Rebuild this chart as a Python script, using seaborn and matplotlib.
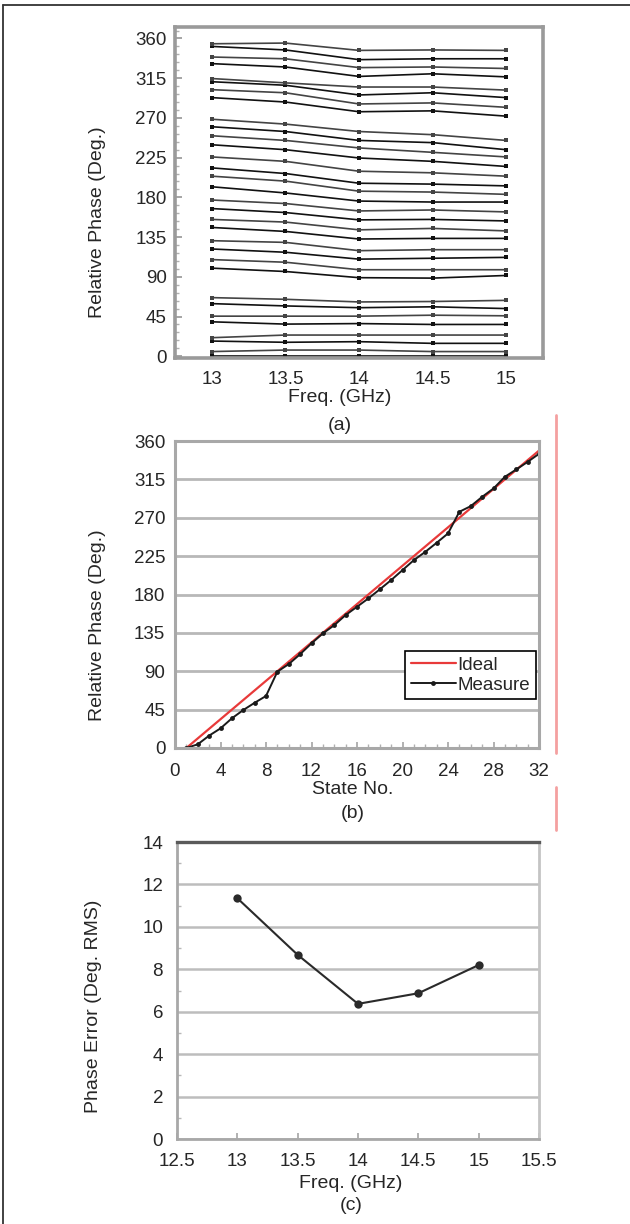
import numpy as np
import pandas as pd
import matplotlib
matplotlib.use("Agg")
import matplotlib.pyplot as plt
from matplotlib.lines import Line2D
from matplotlib.ticker import MultipleLocator
import seaborn as sns

# ---------------- data ----------------
# (a) relative phase of 32 states vs frequency
freqs_a = [13.0, 13.5, 14.0, 14.5, 15.0]
phase_13 = [0, 5.3, 17.2, 21, 39, 45.4, 59.6, 66.4,
            99.8, 109.5, 121.5, 130.9, 145.9, 155, 167.3, 177,
            192, 204, 213.4, 225.8, 239.6, 249.8, 260, 268.5,
            293, 302, 311, 314.6, 331.5, 339, 351, 354]
phase_13p5 = [0, 7, 15.8, 24, 36.4, 45.4, 57, 64.5,
              96, 106.5, 117.8, 129, 141.4, 152, 162.8, 173,
              185, 198.4, 207, 220.8, 234, 244.5, 254.6, 263,
              288, 298.5, 307, 309.7, 327.7, 337, 347, 354.8]
phase_14 = [0, 7, 16.5, 24, 37, 45.4, 55, 61.5,
            89, 98, 110, 119.6, 132.8, 143.2, 154.5, 164.6,
            175.8, 187, 196, 209.6, 224.6, 236, 244.5, 254.6,
            277, 285.8, 296, 305, 317, 327, 336, 346.5]
phase_14p5 = [0, 5.3, 14.6, 24, 36, 46.5, 56, 62,
              88.5, 98, 111, 120.7, 133.5, 144.8, 155, 165.7,
              174.7, 186, 195, 207.8, 220.8, 231, 242, 251,
              278, 287, 298.5, 305, 320, 327.7, 337, 347]
phase_15 = [0, 5.3, 14.6, 24, 36, 45.8, 54, 63.3,
            91.5, 98, 112, 120.7, 133.5, 142, 153.3, 163.5,
            174.7, 183.4, 193, 204, 215, 225.8, 234, 244.5,
            272, 282, 293, 301.5, 316.5, 326, 337, 346.5]

# (b) relative phase vs state number
states_b = list(range(1, 33))
ideal_b = [11.25 * (s - 1) for s in states_b]
measure_b = [0, 4.3, 14.5, 23, 34.8, 44.5, 53, 61,
             89.5, 98.4, 110, 122.7, 134.4, 144, 155.9, 165.6,
             175.4, 186, 196.9, 208.6, 220.3, 230, 240.6, 251.6,
             277, 283.6, 294.5, 304.3, 318, 326.6, 335.5, 345]

# (c) rms phase error vs frequency
freqs_c = [13.0, 13.5, 14.0, 14.5, 15.0]
rms_err_c = [11.35, 8.68, 6.37, 6.87, 8.2]

ticks_a_y = [0, 45, 90, 135, 180, 225, 270, 315, 360]
ticks_a_x = [13, 13.5, 14, 14.5, 15]
ticks_b_x = [0, 4, 8, 12, 16, 20, 24, 28, 32]
ticks_c_x = [12.5, 13, 13.5, 14, 14.5, 15, 15.5]
ticks_c_y = [0, 2, 4, 6, 8, 10, 12, 14]

# ---------------- style ----------------
sns.set_theme(style="white")
plt.rcParams['font.family'] = ['Liberation Sans', 'DejaVu Sans']

W, H = 630, 1224
fig = plt.figure(figsize=(W / 100, H / 100), dpi=100)


def rect(l, t, r, b):
    return [l / W, 1 - b / H, (r - l) / W, (b - t) / H]


FS = 13.5

# ---------------- (a) ----------------
ax_a = fig.add_axes(rect(175, 27, 543, 358))
cols = [phase_13, phase_13p5, phase_14, phase_14p5, phase_15]
rows = []
for s in range(32):
    for f, col in zip(freqs_a, cols):
        rows.append({"state": s + 1, "freq": f, "phase": col[s]})
df_a = pd.DataFrame(rows)
for s in range(1, 33):
    sub = df_a[df_a.state == s]
    sns.lineplot(data=sub, x="freq", y="phase", ax=ax_a,
                 color="#111111" if s % 2 else "#444444",
                 lw=1.2, marker="s", markersize=3.2, markeredgewidth=0,
                 legend=False)
ax_a.set_xlim(12.75, 15.25)
ax_a.set_ylim(-2, 373)
ax_a.set_xticks(ticks_a_x)
ax_a.set_xticklabels(["13", "13.5", "14", "14.5", "15"])
ax_a.set_yticks(ticks_a_y)
ax_a.yaxis.set_minor_locator(MultipleLocator(9))
ax_a.set_xlabel("")
ax_a.set_ylabel("")
for sp in ax_a.spines.values():
    sp.set_color("#9a9a9a")
    sp.set_linewidth(2.6)
ax_a.tick_params(axis="y", which="major", direction="in", length=5,
                 color="#9a9a9a", labelsize=FS, pad=6, left=True)
ax_a.tick_params(axis="y", which="minor", direction="in", length=3,
                 color="#b0b0b0", left=True)
ax_a.tick_params(axis="x", length=0, labelsize=FS, pad=9)

# ---------------- (b) ----------------
ax_b = fig.add_axes(rect(175, 441, 539, 748))
ax_b.yaxis.grid(True, color="#b8b8b8", lw=2)
ax_b.set_axisbelow(True)
sns.lineplot(x=states_b, y=ideal_b, ax=ax_b, color="#e83a3a", lw=1.6,
             label="Ideal")
sns.lineplot(x=states_b, y=measure_b, ax=ax_b, color="#1a1a1a", lw=1.4,
             marker="o", markersize=3.5, markeredgewidth=0, label="Measure")
ax_b.set_xlim(0, 32)
ax_b.set_ylim(0, 360)
ax_b.set_xticks(ticks_b_x)
ax_b.set_yticks(ticks_a_y)
ax_b.xaxis.set_minor_locator(MultipleLocator(1))
for sp in ax_b.spines.values():
    sp.set_color("#a8a8a8")
    sp.set_linewidth(2.2)
ax_b.tick_params(axis="both", which="major", labelsize=FS)
ax_b.tick_params(axis="x", which="major", direction="in", length=4,
                 color="#a8a8a8", pad=11, bottom=True)
ax_b.tick_params(axis="x", which="minor", direction="in", length=3,
                 color="#b0b0b0", bottom=True)
ax_b.tick_params(axis="y", length=0, pad=7)
leg = ax_b.legend(loc="upper left", bbox_to_anchor=(0.632, 0.316),
                  frameon=True, fancybox=False, edgecolor="black",
                  framealpha=1, fontsize=FS, handlelength=2.4,
                  handletextpad=0.1, labelspacing=0.15, borderpad=0.3,
                  borderaxespad=0)
leg.get_frame().set_linewidth(1.2)

# ---------------- (c) ----------------
ax_c = fig.add_axes(rect(177, 842, 539, 1139))
ax_c.yaxis.grid(True, color="#bdbdbd", lw=1.8)
ax_c.set_axisbelow(True)
sns.lineplot(x=freqs_c, y=rms_err_c, ax=ax_c, color="#2a2a2a", lw=1.5,
             marker="o", markersize=6, markeredgewidth=0)
ax_c.set_xlim(12.5, 15.5)
ax_c.set_ylim(0, 14)
ax_c.set_xticks(ticks_c_x)
ax_c.set_xticklabels(["12.5", "13", "13.5", "14", "14.5", "15", "15.5"])
ax_c.set_yticks(ticks_c_y)
ax_c.yaxis.set_minor_locator(MultipleLocator(1))
for name, sp in ax_c.spines.items():
    sp.set_color("#a8a8a8")
    sp.set_linewidth(2.0)
ax_c.spines["top"].set_color("#5a5a5a")
ax_c.spines["top"].set_linewidth(2.4)
ax_c.spines["right"].set_color("#c4c4c4")
ax_c.tick_params(axis="both", which="major", labelsize=FS)
ax_c.tick_params(axis="x", direction="in", length=4, color="#a8a8a8",
                 pad=10, bottom=True)
ax_c.tick_params(axis="y", which="major", length=0, pad=10)
ax_c.tick_params(axis="y", which="minor", direction="in", length=3,
                 color="#b8b8b8", left=True)

# ---------------- labels ----------------
TFS = 14
fig.text(340 / W, 1 - 398 / H, "Freq. (GHz)", ha="center", va="center", fontsize=TFS)
fig.text(340 / W, 1 - 425 / H, "(a)", ha="center", va="center", fontsize=TFS)
fig.text(353 / W, 1 - 790 / H, "State No.", ha="center", va="center", fontsize=TFS)
fig.text(353 / W, 1 - 813 / H, "(b)", ha="center", va="center", fontsize=TFS)
fig.text(351 / W, 1 - 1184 / H, "Freq. (GHz)", ha="center", va="center", fontsize=TFS)
fig.text(351 / W, 1 - 1206 / H, "(c)", ha="center", va="center", fontsize=TFS)
fig.text(97 / W, 1 - 222 / H, "Relative Phase (Deg.)", rotation=90,
         ha="center", va="center", fontsize=TFS)
fig.text(97 / W, 1 - 625 / H, "Relative Phase (Deg.)", rotation=90,
         ha="center", va="center", fontsize=TFS)
fig.text(93 / W, 1 - 1006 / H, "Phase Error (Deg. RMS)", rotation=90,
         ha="center", va="center", fontsize=TFS)

# decorative frame and red rule
fig.add_artist(Line2D([3 / W, 3 / W], [0, 1 - 5 / H], color="#333333", lw=1.3))
fig.add_artist(Line2D([3 / W, 1], [1 - 5 / H, 1 - 5 / H], color="#333333", lw=1.3))
fig.add_artist(Line2D([556 / W, 556 / W], [1 - 415 / H, 1 - 753 / H],
                      color="#f4a0a0", lw=2))
fig.add_artist(Line2D([556 / W, 556 / W], [1 - 787 / H, 1 - 830 / H],
                      color="#f4a0a0", lw=2))

fig.savefig("out.png", dpi=100)
